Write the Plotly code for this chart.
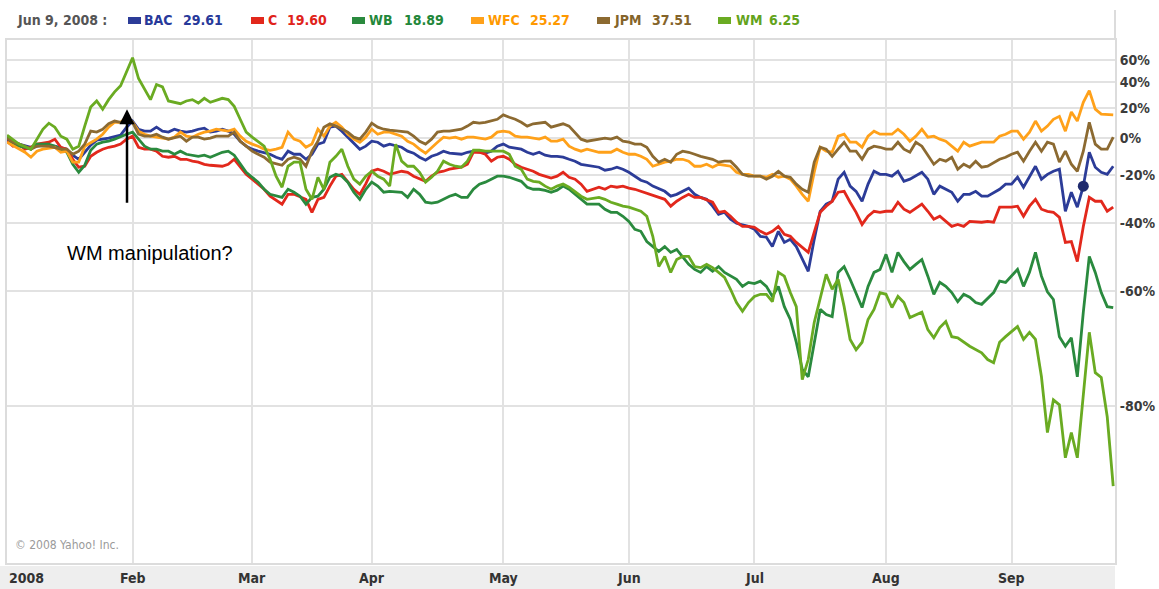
import plotly.graph_objects as go
import math

# ---------------- data (trading-day index since Jan 2 2008, % change) ----------------
MONTH_DAYS = [0, 21, 41, 61, 83, 104, 125, 147, 168]
MONTH_LABELS = ["2008", "Feb", "Mar", "Apr", "May", "Jun", "Jul", "Aug", "Sep"]

Y_TICK_PCT = [60, 40, 20, 0, -20, -40, -60, -80]

BAC_day = [0,2,4,6,8,10,11,12,13,14,15,17,19,20,21,22,23,24,25,26,27,28,29,30,31,32,33,34,35,36,37,38,39,40,41,42,44,45,46,47,48,49,50,51,52,53,54,55,56,57,58,59,60,61,62,63,64,66,67,68,69,70,71,72,73,74,76,77,78,79,80,81,82,83,84,86,87,88,89,90,91,92,93,94,95,96,97,99,100,101,102,103,104,105,106,107,108,110,111,112,113,114,115,116,117,118,119,120,121,122,124,125,126,127,128,129,130,131,132,133,134,135,136,137,138,139,140,141,142,143,144,145,146,147,148,149,150,151,153,154,155,156,157,158,159,160,161,162,163,164,166,167,168,169,170,171,172,173,174,175,176,177,178,179,180,181,182,183,184,185]
BAC_pct = [-0.6,-3.5,-5.3,-4.1,-4.7,-6.4,-9.7,-11.9,-8.1,-4.1,-1.2,0,1.8,6.8,10.8,5.5,4.3,4.3,6.8,4.3,3.7,5.5,4.3,3.7,4.3,5.5,6.2,3.7,4.3,5.5,4.3,2.4,-1.8,-4.7,-6.4,-7.5,-9.2,-10.8,-11.9,-7.5,-9.2,-9.2,-11.9,-9.2,-3.5,-2.4,6.8,7.5,4.3,0.6,-3.5,-6.4,-4.7,-1.8,-2.4,-4.7,-3.5,-5.3,-7.5,-8.6,-10.8,-12.4,-10.3,-9.2,-7.5,-8.6,-9.2,-8.1,-7.5,-8.1,-8.6,-7.5,-4.7,-3.5,-5.3,-6.4,-8.1,-9.2,-8.1,-9.7,-10.3,-10.3,-10.8,-11.9,-12.9,-14.5,-15,-16,-17.5,-17,-16,-17,-18.5,-20.4,-22.3,-23.2,-25,-27.3,-29.4,-28.6,-27.3,-25.9,-28.6,-29.9,-30.7,-33.5,-36.7,-35.9,-38.5,-40,-41.1,-42.1,-44.5,-44.8,-47.8,-42.8,-46.5,-45.5,-47.8,-51.7,-55,-45.5,-35.5,-32.7,-31.5,-21.8,-18.5,-25,-27.3,-31.5,-24.1,-18,-19.5,-19.5,-20.4,-18,-22.8,-21.8,-18.5,-21.8,-28.6,-25,-26.4,-27.7,-31.5,-28.6,-28.6,-27.3,-29.4,-29.4,-26.4,-24.1,-24.1,-20.9,-25.5,-20.9,-15.5,-21.8,-19.5,-18,-17,-35.5,-27.7,-33.9,-25,-8.1,-16,-18.5,-19.5,-15.5]

C_day = [0,1,2,3,4,5,7,8,9,10,11,12,13,14,15,16,17,18,19,20,21,22,23,24,25,26,27,28,29,30,31,32,33,34,36,37,38,39,40,41,42,43,44,46,47,48,50,51,52,53,54,55,56,57,58,59,60,61,62,63,64,66,67,68,69,70,71,72,73,74,76,77,78,79,80,81,82,83,84,85,86,87,88,89,90,91,92,93,94,95,96,97,99,100,101,102,103,104,105,106,107,109,110,111,112,113,114,115,116,118,119,120,121,122,123,124,125,126,127,128,129,130,131,132,134,135,136,137,138,139,140,141,142,143,144,145,146,147,148,149,150,151,153,154,155,156,157,158,159,160,161,163,164,165,166,167,168,169,170,171,172,173,174,175,176,177,178,179,180,181,182,183,184,185]
C_pct = [-1.8,-4.7,-3.5,-6.4,-5.3,-3.5,-2.4,-0.6,-5.3,-6.4,-11.9,-16,-15.5,-10.3,-8.1,-6.4,-5.3,-4.7,-3.5,-0.6,1.2,-5.3,-6.4,-6.4,-7.5,-10.3,-10.8,-10.3,-11.9,-11.9,-12.9,-13.4,-14.5,-15,-15.5,-14.5,-11.9,-16,-19.5,-21.8,-24.1,-26.4,-29.4,-32.7,-28.6,-28.6,-30.7,-35.9,-30.7,-29.9,-25,-20.4,-19.5,-23.2,-26.4,-28.6,-24,-18,-17,-18,-19.5,-18,-18.5,-20.4,-21.8,-22.8,-20.4,-18.5,-18,-17,-16,-14.5,-8.1,-8.1,-9.2,-12.9,-10.8,-10.3,-11.9,-14.5,-16,-17,-18,-19.5,-20.4,-21.3,-20.4,-18.5,-20.9,-21.8,-24.1,-27.3,-25.5,-26.4,-25,-25.5,-25,-25.9,-26.4,-27.3,-28.2,-29.9,-30.7,-33.5,-31.5,-29.9,-28.6,-29.9,-29.9,-31.9,-35.9,-35.5,-37.4,-39.6,-41.1,-41.1,-41.4,-42.8,-43.8,-42.8,-41.1,-43.8,-44.5,-46.5,-49.6,-43.1,-35.9,-33.5,-31.5,-27.7,-27.3,-31.9,-35.9,-40.4,-37.4,-35.5,-35.9,-35.5,-35.5,-31.9,-34.7,-35.9,-32.7,-35.5,-38.5,-37.4,-39.3,-41.1,-40.4,-41.1,-39.3,-39.6,-39.3,-39.6,-33.9,-33.9,-33.9,-33.5,-37.4,-33.5,-30.7,-34.7,-35.5,-35.9,-37.8,-46.5,-46.2,-52.3,-41.1,-29.9,-31.5,-31.5,-35.5,-33.9]

WB_day = [0,1,2,3,4,5,7,8,9,10,11,12,13,14,15,16,17,18,20,21,22,23,24,25,26,27,28,29,30,31,32,33,34,36,37,38,39,40,41,42,43,44,46,47,48,49,50,51,52,53,54,55,56,57,58,59,60,61,62,63,64,66,67,68,69,70,71,72,74,75,76,77,78,79,80,81,82,83,84,86,87,88,89,90,91,92,93,94,95,96,97,99,100,101,102,103,104,105,106,107,109,110,111,112,113,114,115,116,117,118,119,120,122,123,124,125,126,127,128,129,130,131,132,133,134,135,136,137,138,139,140,141,142,143,144,145,146,147,148,149,150,151,152,153,154,155,156,157,158,159,160,161,162,163,165,166,167,168,169,170,171,172,173,174,175,176,177,178,179,180,181,182,183,184,185]
WB_pct = [0.6,-3.5,-4.7,-5.3,-6.4,-3.5,-3.5,-4.7,-6.4,-8.1,-14.5,-18.5,-15,-7,-3.5,-2.4,-1.8,-0.6,2.4,3.7,-0.6,-4.7,-6.4,-6.4,-7.5,-7.5,-9.2,-7.5,-9.2,-9.7,-10.3,-9.7,-10.8,-8.1,-7.5,-9.7,-14.5,-18.5,-20.9,-23.2,-26.4,-28.6,-29.9,-26.4,-27.7,-29.4,-32.7,-29.9,-29.4,-26.4,-20.9,-19.5,-20.4,-23.2,-27.7,-30.7,-26.4,-23.2,-25,-27.7,-27.3,-27.7,-29.9,-26.4,-28.6,-31.9,-32.3,-31.9,-29.4,-28.6,-29.9,-29.9,-26.4,-24.1,-23.2,-21.8,-20.4,-20.4,-20.9,-22.8,-25.5,-26.4,-26.4,-26.9,-27.7,-26.8,-25,-26.4,-28.6,-30.7,-32.7,-32.7,-34.7,-35.9,-35.9,-37.4,-39.3,-42.1,-42.8,-46.2,-49.3,-47.8,-49.6,-48.7,-51.1,-53.1,-54.5,-55.3,-53.7,-55,-53.7,-55.3,-57.1,-58.9,-57.9,-58.2,-57.6,-58.9,-61.3,-58.9,-63.6,-66.3,-70.6,-75,-76.1,-70.6,-64.2,-65.3,-65.7,-55.3,-53.7,-57.1,-60.4,-63.8,-58.9,-55.3,-54.5,-50.2,-55.3,-49.6,-52.3,-54.5,-53.1,-51.7,-56.3,-60.8,-57.9,-58.9,-60.4,-62.5,-60.8,-61.5,-62.7,-63.1,-60.4,-57.6,-57.9,-56.3,-54.5,-58.9,-55.3,-49.6,-56.3,-60.2,-62,-69.6,-71.3,-69.8,-76.1,-64.8,-50.8,-55.3,-60.4,-63.6,-63.8]

WFC_day = [0,2,3,4,5,6,8,9,10,11,12,13,15,16,17,18,19,20,21,22,23,24,25,27,28,29,30,31,32,33,34,35,37,38,39,40,41,42,43,44,45,46,47,48,49,50,51,52,53,54,55,56,57,58,59,60,61,62,63,64,66,67,68,69,70,71,72,73,74,75,76,77,78,80,81,82,83,84,85,86,87,89,90,91,92,93,94,95,96,97,99,100,101,102,103,104,105,106,107,108,109,110,111,112,113,114,115,116,117,118,119,121,122,123,124,125,126,127,128,129,130,131,132,133,134,135,136,137,138,139,140,141,142,143,144,145,146,147,148,149,150,151,152,153,154,155,156,157,159,160,161,162,163,165,166,167,168,169,170,171,172,173,174,175,176,177,178,179,180,181,182,183,184,185]
WFC_pct = [-2.4,-6.4,-8.1,-10.8,-7.5,-6.4,-5.3,-8.1,-7.5,-13.4,-13.4,-4.7,-0.6,2.4,6.8,10,10,13.4,10,4.3,2.4,1.2,0.6,-0.6,0.6,3.7,1.2,0.6,2.4,3.7,4.3,5.5,4.3,5.5,1.2,-1.8,-3.5,-4.7,-6.4,-7,-6.4,-5.3,3.7,-0.6,-1.8,-5.3,-3.5,5.5,1.2,7.5,10,6.8,2.4,-0.6,-2.4,0.6,5.5,2.4,3.7,3.7,1.2,-1.8,-3.5,-6.4,-8.6,-5.3,-2.4,0.6,0,0.6,-0.6,0.6,0.6,-0.6,0.6,3.7,4.3,3.7,1.2,0.6,0.6,-0.6,0.6,-1.8,-1.8,-0.6,-4.7,-6.4,-7.5,-6.4,-8.1,-8.1,-8.1,-6.4,-8.1,-9.2,-9.2,-10.3,-11.9,-15.5,-14.5,-13.4,-12.9,-11.9,-11.9,-12.9,-15.5,-15.5,-14.5,-16,-14.5,-15.5,-18.5,-19.5,-19.5,-20.4,-20.4,-20.9,-19.5,-20.9,-20.4,-21.8,-25,-28.6,-31.5,-18.5,-5.3,-7.5,-8.1,1.2,2.4,-2.4,-2.4,-5.3,1.2,4.3,2.4,2.4,2.4,5.5,2.4,-1.8,1.2,5.5,0.6,1.2,-0.6,-1.8,-7.5,-2.4,-4.7,-3.5,-2.4,-2.4,1.2,2.4,4.3,4.3,-0.6,3.7,10.8,4.3,7.5,12,14,4.3,17,10.8,24,33,19,15.5,15,15]

JPM_day = [0,1,2,3,4,5,7,9,10,11,12,13,14,15,16,17,18,19,20,21,22,23,24,25,26,27,29,30,31,32,33,34,35,37,38,39,40,41,42,43,44,46,47,48,49,50,51,52,53,54,55,57,58,59,60,61,62,63,64,66,67,68,69,70,71,72,73,74,75,76,77,78,79,80,82,83,84,85,86,87,88,90,91,92,93,94,95,96,97,99,100,101,102,103,104,105,106,107,108,109,110,111,112,113,114,115,116,118,119,120,121,122,123,124,125,126,127,128,129,130,131,132,133,134,135,136,137,138,139,140,141,142,143,144,145,146,147,148,149,150,151,152,153,155,156,157,158,159,160,161,162,163,164,166,167,168,169,170,171,172,173,174,175,176,177,178,179,180,181,182,183,184,185]
JPM_pct = [0,-2.4,-3.5,-4.7,-6.4,-4.7,-4.7,-6.4,-6.4,-9.2,-7.5,-3.5,4.3,3.7,5.5,9,10.8,10,10.8,10,2.4,1.2,1.2,2.4,0.6,-0.6,1.2,-1.8,0.6,0.6,-0.6,0,1.2,1.2,3.7,-1.8,-4.7,-7.5,-9.2,-10.8,-13.4,-15,-11.9,-10.8,-11.9,-15.5,-7.5,-1.8,6.8,9,7.5,3.7,0.6,-0.6,3.7,9.4,6.8,5.5,4.9,4.3,3.7,1.2,-1.8,-3.5,-0.6,3.7,4.3,4.3,4.9,5.5,7.5,10,9.4,10,12,15,13.4,12,10,7.5,9,10,6.8,8.1,9,7.5,3.7,-0.6,-1.8,-0.6,0,-0.6,0.6,-1.8,-2.4,-3.5,-3.5,-5.3,-10.3,-13.4,-11.9,-13.4,-9.2,-7.5,-8.1,-9.2,-10.3,-11.9,-13.4,-12.9,-12.9,-16,-19.5,-20.4,-20.4,-20.4,-21.8,-20.4,-18,-20.4,-20.9,-24.1,-26.4,-27.7,-13.4,-5.3,-6.4,-10.3,-6.4,-2.4,-7.5,-7.5,-11.9,-6.4,-4.7,-5.3,-6.4,-6.4,-2.4,-6.4,-8.1,-2.4,-4.7,-14.5,-11.9,-12.9,-10.8,-17,-14.5,-16,-12.9,-16,-15.5,-11.9,-10.8,-9.2,-8.1,-12.9,-7.5,-2.4,-7.5,-2.4,-3.5,-13.4,-7.5,-14.5,-18,-7.5,10,-3.5,-6.4,-6.4,0.6]

WM_day = [0,2,4,6,7,8,9,10,11,12,13,14,15,16,17,18,19,20,21,22,23,24,25,26,27,29,30,31,32,33,34,35,36,37,38,39,40,41,43,44,45,46,47,48,49,50,51,52,53,54,55,56,57,58,59,60,61,62,63,64,65,66,67,68,69,70,71,72,73,74,75,76,77,78,79,80,82,83,84,85,86,87,88,89,90,91,92,93,94,95,96,97,99,100,101,102,103,104,105,106,107,108,109,110,111,112,113,114,115,116,117,118,119,120,121,122,123,124,125,126,127,128,129,130,131,132,133,134,135,136,137,138,139,140,141,142,143,144,145,146,147,148,149,150,151,153,154,155,156,157,158,159,160,161,163,164,165,166,167,168,169,170,171,172,173,174,175,176,177,178,179,181,182,183,184,185]
WM_pct = [1.8,-3.5,-6.4,5.5,9.4,6.8,1.2,-0.6,-6.4,-4.7,7.5,20.5,25,19,26,32,37,49,62,43,34,26,38,36,25,23,25,26,23.5,27,24,25.6,27,26,21,12,3.7,0.6,-4.7,-11.9,-20.4,-25.5,-15.5,-13.4,-13.4,-26.4,-30.7,-20.9,-26.4,-13.4,-10.3,-6.4,-15.5,-21.8,-24.1,-20.4,-18,-20.4,-21.8,-25,-3.5,-12.9,-15.5,-15.5,-18.5,-23.2,-20.9,-18,-12.9,-14.5,-15.5,-16,-12.9,-7,-7,-7.5,-7.5,-7.5,-9.2,-15.5,-17,-21.8,-22.8,-23.2,-25,-26.4,-25,-24.1,-25.5,-27.3,-29.4,-30.7,-29.9,-30.7,-31.9,-32.7,-33.5,-33.9,-34.7,-35.5,-37.4,-44.5,-53.7,-50.8,-55.3,-51.7,-50.8,-50.8,-53.7,-54,-53.1,-54,-55.3,-56.6,-59.6,-62.7,-64.6,-62.7,-61.3,-60.8,-60.8,-62.5,-55.3,-56.3,-60.4,-63.6,-76.5,-73.5,-66.9,-62,-55.8,-59.6,-57.1,-63.6,-70.1,-71.9,-70.6,-66.3,-64.2,-60.4,-60.8,-63.8,-61.3,-62.7,-65.9,-64.8,-68.3,-69.8,-67.9,-66.7,-69.6,-69.8,-70.5,-71.3,-72.4,-73.5,-74,-70.6,-69.6,-68.7,-67.7,-70.1,-68.8,-70.1,-76.1,-82.9,-79.2,-79.8,-85.3,-82.9,-85.3,-68.8,-75.5,-76.2,-81.2,-87.6]

TICKERS = ["BAC", "C", "WB", "WFC", "JPM", "WM"]
LAST_PRICES = ["29.61", "19.60", "18.89", "25.27", "37.51", "6.25"]
HOVER_DATE = "Jun 9, 2008 :"
MARKER_DAY = 180  # highlighted point on BAC

# ---------------- styling ----------------
LINE_COLORS = ["#2c3c98", "#e2281c", "#2a8a3e", "#ffa11a", "#8c6a31", "#6aab22"]
TEXT_COLORS = ["#27399a", "#e0231a", "#23873a", "#ff9900", "#85642a", "#63a31c"]
BOLD_FONT = "DejaVu Sans Condensed, Liberation Sans Narrow, Arial Narrow, DejaVu Sans, sans-serif"

W, H = 1159, 589
L, R, T, B = 7, 44, 40, 26
PW, PH = W - L - R, H - T - B


def px_x(px):
    return (px - L) / PW


def px_y(py):
    return (H - B - py) / PH


series = [
    (BAC_day, BAC_pct), (C_day, C_pct), (WB_day, WB_pct),
    (WFC_day, WFC_pct), (JPM_day, JPM_pct), (WM_day, WM_pct),
]

fig = go.Figure()
for (days, pct), name, col in zip(series, TICKERS, LINE_COLORS):
    fig.add_trace(go.Scatter(
        x=days, y=[1 + p / 100 for p in pct], mode="lines", name=name,
        line=dict(color=col, width=2.8), hoverinfo="skip"))

# highlighted marker on BAC
mi = BAC_day.index(MARKER_DAY)
fig.add_trace(go.Scatter(
    x=[BAC_day[mi]], y=[1 + BAC_pct[mi] / 100], mode="markers",
    marker=dict(color="#1f2a6e", size=11), hoverinfo="skip"))

ymin, ymax = 0.0782, 1.802
fig.update_layout(
    template="none",
    width=W, height=H, margin=dict(l=L, r=R, t=T, b=B, pad=0, autoexpand=False),
    paper_bgcolor="white", plot_bgcolor="white", showlegend=False,
    xaxis=dict(range=[0, 185.3], tickvals=MONTH_DAYS, showticklabels=False,
               ticks="", showgrid=True, gridcolor="#e2e2e2", gridwidth=2,
               zeroline=False, showline=True, linecolor="#dcdcdc",
               linewidth=2, mirror=True, fixedrange=True, automargin=False),
    yaxis=dict(type="log", range=[math.log10(ymin), math.log10(ymax)],
               side="right", tickvals=[1 + v / 100 for v in Y_TICK_PCT],
               ticktext=[f"{v}%" for v in Y_TICK_PCT], ticks="",
               tickfont=dict(family=BOLD_FONT, size=14, color="#3c3c3c", weight="bold"),
               showgrid=True, gridcolor="#e2e2e2", gridwidth=2, zeroline=False,
               showline=True, linecolor="#dcdcdc", linewidth=2, mirror=True,
               fixedrange=True, automargin=False),
)

shapes = [
    # cover grid at 0% and draw red dashed baseline
    dict(type="line", xref="paper", x0=0, x1=1, yref="y", y0=0, y1=0,
         line=dict(color="white", width=3), layer="below"),
    dict(type="line", xref="paper", x0=0, x1=1, yref="y", y0=0, y1=0,
         line=dict(color="#e8694a", width=1.6, dash="6px,5px"), layer="below"),
    # date band at bottom
    dict(type="rect", xref="paper", x0=px_x(0), x1=1, yref="paper",
         y0=px_y(589), y1=px_y(566), fillcolor="#eeeeee", line=dict(width=0)),
    # right frame extension into header
    dict(type="line", xref="paper", x0=1, x1=1, yref="paper", y0=1, y1=px_y(10),
         line=dict(color="#dcdcdc", width=2)),
]

annotations = []
# month labels
for i, (d, lab) in enumerate(zip(MONTH_DAYS, MONTH_LABELS)):
    annotations.append(dict(
        x=d, xref="x", y=px_y(578), yref="paper", text=lab, showarrow=False,
        xanchor="left" if i == 0 else "center", yanchor="middle",
        font=dict(family=BOLD_FONT, size=14, color="#333333", weight="bold")))

# header legend
annotations.append(dict(
    x=px_x(15), xref="paper", y=px_y(20), yref="paper", text=HOVER_DATE,
    showarrow=False, xanchor="left", yanchor="middle",
    font=dict(family=BOLD_FONT, size=14, color="#555555", weight="bold")))
sw_x = [128, 251, 352, 471, 597, 718]
tk_x = [142, 266, 367, 486, 612, 734]
pr_x = [181, 285, 402, 528, 650, 767]
for i in range(len(TICKERS)):
    shapes.append(dict(type="rect", xref="paper", x0=px_x(sw_x[i]), x1=px_x(sw_x[i] + 13),
                       yref="paper", y0=px_y(24), y1=px_y(17),
                       fillcolor=LINE_COLORS[i], line=dict(width=0)))
    annotations.append(dict(
        x=px_x(tk_x[i]), xref="paper", y=px_y(20), yref="paper", text=TICKERS[i],
        showarrow=False, xanchor="left", yanchor="middle",
        font=dict(family=BOLD_FONT, size=14, color=TEXT_COLORS[i], weight="bold")))
    annotations.append(dict(
        x=px_x(pr_x[i]), xref="paper", y=px_y(20), yref="paper", text=LAST_PRICES[i],
        showarrow=False, xanchor="left", yanchor="middle",
        font=dict(family=BOLD_FONT, size=14, color=TEXT_COLORS[i], weight="bold")))

# copyright
annotations.append(dict(
    x=px_x(13), xref="paper", y=px_y(545), yref="paper", text="© 2008 Yahoo! Inc.",
    showarrow=False, xanchor="left", yanchor="middle",
    font=dict(family="DejaVu Sans Condensed, DejaVu Sans, sans-serif", size=12, color="#9a9a9a")))

# WM manipulation arrow and note
annotations.append(dict(
    x=20.07, xref="x", y=math.log10(1.19), yref="y", text="", showarrow=True,
    ax=0, ay=95, arrowhead=2, arrowsize=1.2, arrowwidth=2.5, arrowcolor="black"))
annotations.append(dict(
    x=px_x(150), xref="paper", y=px_y(253), yref="paper", text="WM manipulation?",
    showarrow=False, xanchor="center", yanchor="middle",
    font=dict(family="Liberation Sans, Arial, sans-serif", size=20, color="black")))

fig.update_layout(shapes=shapes, annotations=annotations)
fig.write_html(
    "out.html",
    config={"displayModeBar": False, "staticPlot": True},
    post_script="document.body.style.margin='0px';document.body.style.padding='0px';"
                "document.body.style.overflow='hidden';",
)
